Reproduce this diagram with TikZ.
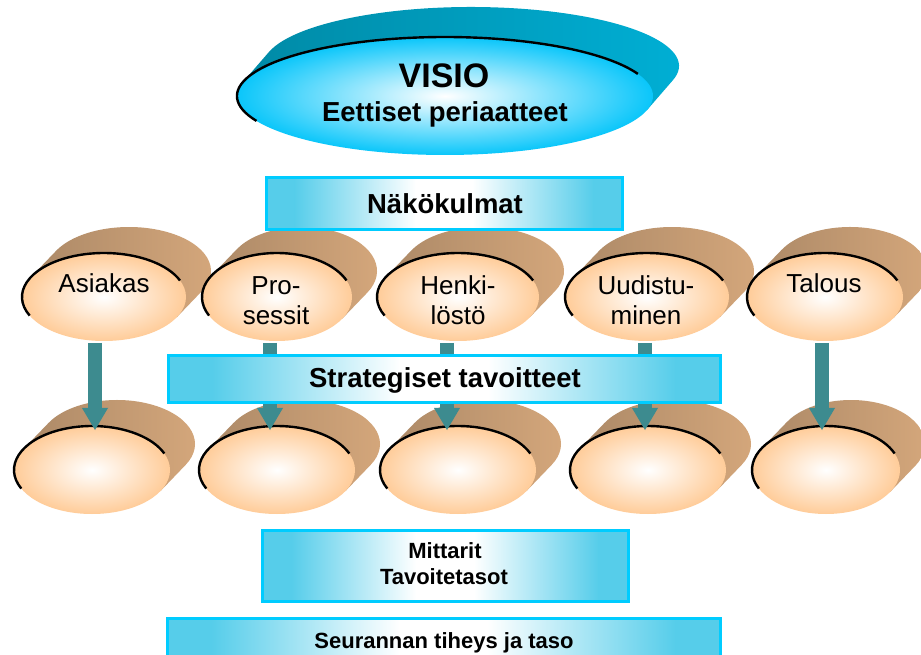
\documentclass[tikz,border=0pt]{standalone}
\usepackage{fontspec}
\setmainfont{Liberation Sans}
\usetikzlibrary{calc,arrows.meta}

\definecolor{peach}{RGB}{255,204,153}
\definecolor{tanlight}{RGB}{214,168,124}
\definecolor{tanmid}{RGB}{172,137,103}
\definecolor{tandark}{RGB}{150,118,88}
\definecolor{skyedge}{RGB}{10,198,250}
\definecolor{tealdark}{RGB}{0,120,146}
\definecolor{teallight}{RGB}{0,176,214}
\definecolor{tealmid}{RGB}{0,138,166}
\definecolor{bandcyan}{RGB}{86,205,234}
\definecolor{bandrim}{RGB}{0,204,255}
\definecolor{flowteal}{RGB}{61,139,143}

\tikzset{
  tanback/.style={left color=tanmid, middle color=tandark, right color=tanlight},
  tanface/.style={inner color=white, outer color=peach},
  skyback/.style={left color=tealmid, middle color=tealdark, right color=teallight},
  skyface/.style={inner color=white, outer color=skyedge},
  rim/.style={black, line width=1.8pt},
  flowarrow/.style={flowteal, line width=10.5pt,
    -{Triangle[length=16.5pt, width=19.5pt, line width=0pt]}},
  bandframe/.style={draw=bandrim, line width=2.25pt},
  lbl/.style={font=\fontsize{19.5}{23}\selectfont, anchor=base, inner sep=0pt},
  bandlbl/.style={font=\bfseries\fontsize{20.6}{24}\selectfont, anchor=base, inner sep=0pt},
  smalllbl/.style={font=\bfseries\fontsize{16.5}{20}\selectfont, anchor=base, inner sep=0pt},
  visiolbl/.style={font=\bfseries\fontsize{25.5}{30}\selectfont, anchor=base, inner sep=0pt},
}

% An oval with a slanted extrusion behind it:
% centre x, centre y, x radius, y radius, depth dx, depth dy, back style, face style
\newcommand\extrudedoval[8]{%
  \pgfmathsetmacro\ovta{180-atan((#4*#5)/(#3*#6))}%
  \pgfmathsetmacro\ovtb{\ovta-180}%
  \path[#7] ($(#1,#2)+(\ovta:#3 and #4)$) -- ++(#5,#6)
     arc[start angle=\ovta, end angle=\ovtb, x radius=#3, y radius=#4]
     -- ($(#1,#2)+(\ovtb:#3 and #4)$) -- cycle;
  \path[#8] (#1,#2) circle[x radius=#3, y radius=#4];
  \draw[rim] ($(#1,#2)+(205:#3 and #4)$)
     arc[start angle=205, end angle=22, x radius=#3, y radius=#4];
}

% A cyan band, strong at both ends and pale in the middle:
% lower-left x, y, upper-right x, y
\newcommand\cyanband[4]{%
  \pgfmathsetmacro\bwa{#1+0.08*(#3-#1)}%
  \pgfmathsetmacro\bwb{#1+0.42*(#3-#1)}%
  \pgfmathsetmacro\bwc{#1+0.58*(#3-#1)}%
  \pgfmathsetmacro\bwd{#1+0.92*(#3-#1)}%
  \fill[bandcyan] (#1,#2) rectangle (\bwa+0.5,#4);
  \shade[left color=bandcyan, right color=white] (\bwa,#2) rectangle (\bwb+0.5,#4);
  \fill[white] (\bwb,#2) rectangle (\bwc,#4);
  \shade[left color=white, right color=bandcyan] (\bwc-0.5,#2) rectangle (\bwd,#4);
  \fill[bandcyan] (\bwd-0.5,#2) rectangle (#3,#4);
  \draw[bandframe] (#1,#2) rectangle (#3,#4);
}

\begin{document}
\begin{tikzpicture}[x=0.75pt, y=0.75pt]
\useasboundingbox (0,0) rectangle (921,654);
\clip (0,0) rectangle (921,654);
\fill[white] (0,0) rectangle (921,654);

% vision oval
\extrudedoval{445}{558}{208}{59}{26}{30}{skyback}{skyface}

% perspectives
\extrudedoval{104}{357}{82}{44}{25}{26}{tanback}{tanface}
\extrudedoval{277}{357}{75}{44}{25}{26}{tanback}{tanface}
\extrudedoval{458}{357}{81}{44}{25}{26}{tanback}{tanface}
\extrudedoval{647}{357}{82}{44}{25}{26}{tanback}{tanface}
\extrudedoval{825}{357}{78}{44}{25}{26}{tanback}{tanface}

% goals
\extrudedoval{92}{184}{78}{44}{25}{26}{tanback}{tanface}
\extrudedoval{277}{184}{78}{44}{25}{26}{tanback}{tanface}
\extrudedoval{458}{184}{78}{44}{25}{26}{tanback}{tanface}
\extrudedoval{648}{184}{78}{44}{25}{26}{tanback}{tanface}
\extrudedoval{826}{184}{74}{44}{25}{26}{tanback}{tanface}

% arrow ends
\coordinate (asiakas-out) at (95,311);  \coordinate (goal1-in) at (95,224);
\coordinate (prosessit-out) at (270,311); \coordinate (goal2-in) at (270,224);
\coordinate (henkilosto-out) at (447,311); \coordinate (goal3-in) at (447,224);
\coordinate (uudistuminen-out) at (645,311); \coordinate (goal4-in) at (645,224);
\coordinate (talous-out) at (822,311); \coordinate (goal5-in) at (822,224);

\draw[flowarrow] (asiakas-out) -- (goal1-in);
\draw[flowarrow] (prosessit-out) -- (goal2-in);
\draw[flowarrow] (henkilosto-out) -- (goal3-in);
\draw[flowarrow] (uudistuminen-out) -- (goal4-in);
\draw[flowarrow] (talous-out) -- (goal5-in);

% bands
\cyanband{266}{424}{622}{476}
\cyanband{168}{251}{720}{298}
\cyanband{262}{53}{628}{124}
\cyanband{167}{-20}{720}{36}

% texts
\node[visiolbl] (visio) at (444,566) {VISIO};
\node[bandlbl] (periaatteet) at (445,532) {Eettiset periaatteet};
\node[bandlbl] (nakokulmat) at (445,440) {Näkökulmat};
\node[bandlbl] (strategiset) at (445,266) {Strategiset tavoitteet};
\node[smalllbl] (mittarit) at (445,96) {Mittarit};
\node[smalllbl] (tavoitetasot) at (444,70) {Tavoitetasot};
\node[smalllbl] (seuranta) at (444,6) {Seurannan tiheys ja taso};

\node[lbl] (asiakas) at (104,361) {Asiakas};
\node[lbl] (pro) at (276,359) {Pro-};
\node[lbl] (sessit) at (276,329) {sessit};
\node[lbl] (henki) at (458,359) {Henki-};
\node[lbl] (losto) at (458,329) {löstö};
\node[lbl] (uudistu) at (646,359) {Uudistu-};
\node[lbl] (minen) at (646,329) {minen};
\node[lbl] (talous) at (824,361) {Talous};
\end{tikzpicture}
\end{document}
